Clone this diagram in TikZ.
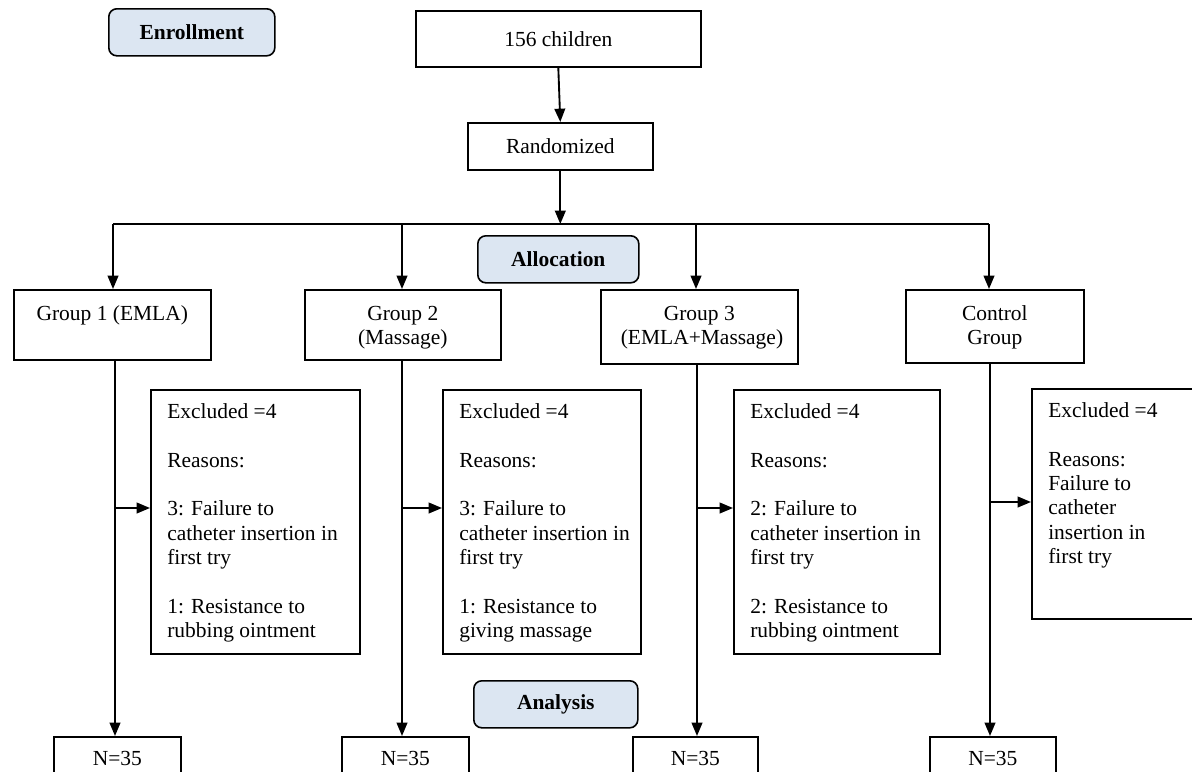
\documentclass[tikz,border=0pt]{standalone}
\usepackage{fontspec}
\setmainfont{Liberation Serif}
\usetikzlibrary{arrows.meta,calc}
\definecolor{phase}{HTML}{DCE6F2}
\begin{document}
\begin{tikzpicture}[x=0.75pt,y=-0.75pt,
  font=\fontsize{16.1}{18.3}\selectfont,
  box/.style 2 args={draw=black, line width=1.2pt, minimum width=#1*0.75pt, minimum height=#2*0.75pt, anchor=north west, inner sep=0pt},
  phasebox/.style 2 args={box={#1}{#2}, fill=phase, rounded corners=6pt, font=\fontsize{16.1}{18.3}\selectfont\bfseries},
  txt/.style={inner sep=0pt, anchor=north, align=center},
  ltxt/.style={inner sep=0pt, anchor=north west, align=left},
  conn/.style={line width=1.4pt},
  arr/.style={conn, -{Triangle[length=10pt,width=8pt]}}
]
\useasboundingbox (0,0) rectangle (1192,771);
\clip (0,0) rectangle (1192,771);

% phase labels
\node[phasebox={166}{47}] (enr) at (108,8) {Enrollment};
\node[phasebox={161}{47}] (alloc) at (477,235) {Allocation};
\node[phasebox={164}{47}] (ana) at (473,680) {Analysis};

% top chain
\node[box={285}{56}] (c156) at (415,10) {156 children};
\node[box={185}{47}] (rand) at (467,122) {Randomized};

% groups
\node[box={197}{70}] (g1) at (13,289) {};
\node[box={196}{70}] (g2) at (304,289) {};
\node[box={197}{74}] (g3) at (600,289) {};
\node[box={178}{73}] (g4) at (905,289) {};
\node[txt] (g1t) at ($(g1.north)+(0,14)$) {\strut Group 1 (EMLA)};
\node[txt] (g2t) at ($(g2.north)+(0,14)$) {\strut Group 2\\(Massage)};
\node[txt] (g3t) at ($(g3.north)+(0,14)$) {\strut Group 3\\\ (EMLA+Massage)};
\node[txt] (g4t) at ($(g4.north)+(0,14)$) {\strut Control\\Group};

% exclusion boxes
\node[box={209}{264}] (ex1) at (150,389) {};
\node[box={198}{264}] (ex2) at (442,389) {};
\node[box={206}{264}] (ex3) at (733,389) {};
\node[box={200}{230}] (ex4) at (1031,388) {};
\node[ltxt] (ex1t) at ($(ex1.north west)+(17,12)$) {\strut Excluded =4\\[18.3pt]Reasons:\\[18.3pt]3: Failure to\\catheter insertion in\\first try\\[18.3pt]1: Resistance to\\rubbing ointment};
\node[ltxt] (ex2t) at ($(ex2.north west)+(17,12)$) {\strut Excluded =4\\[18.3pt]Reasons:\\[18.3pt]3: Failure to\\catheter insertion in\\first try\\[18.3pt]1: Resistance to\\giving massage};
\node[ltxt] (ex3t) at ($(ex3.north west)+(17,12)$) {\strut Excluded =4\\[18.3pt]Reasons:\\[18.3pt]2: Failure to\\catheter insertion in\\first try\\[18.3pt]2: Resistance to\\rubbing ointment};
\node[ltxt] (ex4t) at ($(ex4.north west)+(17,12)$) {\strut Excluded =4\\[18.3pt]Reasons:\\Failure to\\catheter\\insertion in\\first try};

% analysis boxes
\node[box={127}{80}] (n1) at (53,736) {};
\node[box={127}{80}] (n2) at (341,736) {};
\node[box={125}{80}] (n3) at (632,736) {};
\node[box={126}{80}] (n4) at (929,736) {};
\node[txt] (n1t) at ($(n1.north)+(0,12)$) {\strut N=35};
\node[txt] (n2t) at ($(n2.north)+(0,12)$) {\strut N=35};
\node[txt] (n3t) at ($(n3.north)+(0,12)$) {\strut N=35};
\node[txt] (n4t) at ($(n4.north)+(0,12)$) {\strut N=35};

% coordinates
\coordinate (b1) at (113,224);
\coordinate (b2) at (402,224);
\coordinate (b3) at (696,224);
\coordinate (b4) at (989,224);
\coordinate (v1) at (115,0);
\coordinate (v2) at (402,0);
\coordinate (v3) at (697,0);
\coordinate (v4) at (990,0);
\coordinate (r1) at (0,508);
\coordinate (r4) at (0,502);

% connectors
\draw[arr] (c156.south) -- (rand.north);
\draw[arr] (rand.south) -- (rand.south |- b1);
\draw[conn] (b1) -- (b4);
\draw[arr] (b1) -- (b1 |- g1.north);
\draw[arr] (b2) -- (b2 |- g2.north);
\draw[arr] (b3) -- (b3 |- g3.north);
\draw[arr] (b4) -- (b4 |- g4.north);
\draw[arr] (g1.south -| v1) -- (n1.north -| v1);
\draw[arr] (g2.south -| v2) -- (n2.north -| v2);
\draw[arr] (g3.south -| v3) -- (n3.north -| v3);
\draw[arr] (g4.south -| v4) -- (n4.north -| v4);
\draw[arr] (v1 |- r1) -- (ex1.west |- r1);
\draw[arr] (v2 |- r1) -- (ex2.west |- r1);
\draw[arr] (v3 |- r1) -- (ex3.west |- r1);
\draw[arr] (v4 |- r4) -- (ex4.west |- r4);
\end{tikzpicture}
\end{document}
